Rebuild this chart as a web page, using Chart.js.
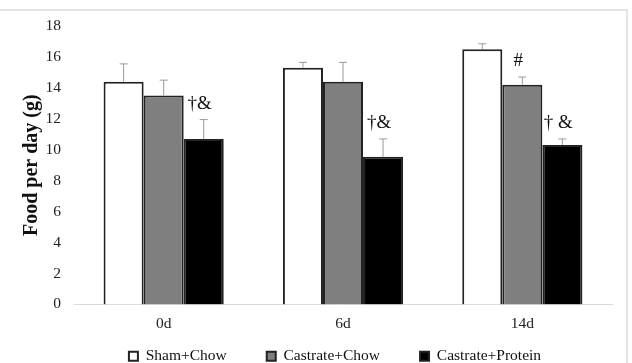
<!DOCTYPE html>
<html>
<head>
<meta charset="utf-8">
<script src="https://cdn.jsdelivr.net/npm/chart.js@4.4.1/dist/chart.umd.min.js"></script>
<style>
    body { margin: 0; background: #fff; }
    #wrap { position: relative; width: 632px; height: 363px; }
    .frame-top { position: absolute; left: 0; top: 9px; width: 628px; height: 2px; background: #e4e4e4; }
    .frame-right { position: absolute; left: 626px; top: 9px; width: 2px; height: 354px; background: #e4e4e4; }
</style>
</head>
<body>
<div id="wrap">
    <div class="frame-top"></div>
    <div class="frame-right"></div>
    <canvas id="foodChart"></canvas>
</div>
<script>
// Data
const days = ['0d', '6d', '14d'];
const groups = ['Sham+Chow', 'Castrate+Chow', 'Castrate+Protein'];
const shamChow = [14.4, 15.3, 16.5];
const castrateChow = [13.5, 14.4, 14.2];
const castrateProtein = [10.7, 9.55, 10.3];
const shamErr = [1.15, 0.35, 0.35];
const chowErr = [1.0, 1.25, 0.5];
const proteinErr = [1.25, 1.15, 0.4];
// significance marks above each bar
const shamMarks = ['', '', ''];
const chowMarks = ['', '', '#'];
const proteinMarks = ['†&', '†&', '† &'];

const serif = "'Liberation Serif', 'Times New Roman', serif";

// Error bars + significance marks
const errorBarPlugin = {
    id: 'errorBars',
    afterDatasetsDraw(chart) {
        const ctx = chart.ctx;
        const yScale = chart.scales.y;
        chart.data.datasets.forEach((ds, di) => {
            const meta = chart.getDatasetMeta(di);
            meta.data.forEach((bar, i) => {
                const top = yScale.getPixelForValue(ds.data[i] + ds.errors[i]);
                ctx.save();
                ctx.strokeStyle = '#9a9a9a';
                ctx.lineWidth = 1;
                ctx.beginPath();
                ctx.moveTo(bar.x, bar.y);
                ctx.lineTo(bar.x, top);
                ctx.moveTo(bar.x - 4, top);
                ctx.lineTo(bar.x + 4, top);
                ctx.stroke();
                if (ds.marks[i]) {
                    ctx.fillStyle = '#111';
                    ctx.font = '19px ' + serif;
                    ctx.textAlign = 'center';
                    ctx.textBaseline = 'middle';
                    ctx.fillText(ds.marks[i], bar.x - 4, top - 16);
                }
                ctx.restore();
            });
        });
    }
};

// legend: short box so the plot keeps its height, then moved just under the axis labels
const legendPlacePlugin = {
    id: 'legendPlace',
    beforeLayout(chart) {
        const lg = chart.legend;
        if (lg && !lg._patched) {
            const fit = lg.fit;
            lg.fit = function () { fit.call(this); this.height = 17; };
            // draw without clipping to the shortened box
            lg.draw = function () { if (this.options.display) this._draw(); };
            lg._patched = true;
        }
    },
    afterLayout(chart) {
        const lg = chart.legend;
        const shift = lg.top - (chart.chartArea.bottom + 4);
        lg.top -= shift;
        lg.bottom -= shift;
        // centre the legend a little right, under the plot
        lg.left += 29;
        lg.right += 29;
    }
};

const ctx = document.getElementById('foodChart').getContext('2d');

new Chart(ctx, {
    type: 'bar',
    data: {
        labels: days,
        datasets: [
            { label: groups[0], data: shamChow, errors: shamErr, marks: shamMarks,
              backgroundColor: '#ffffff', borderColor: '#222222', borderWidth: 2 },
            { label: groups[1], data: castrateChow, errors: chowErr, marks: chowMarks,
              backgroundColor: '#7f7f7f', borderColor: '#222222', borderWidth: 2 },
            { label: groups[2], data: castrateProtein, errors: proteinErr, marks: proteinMarks,
              backgroundColor: '#000000', borderColor: '#222222', borderWidth: 2 }
        ]
    },
    options: {
        responsive: true,
        maintainAspectRatio: false,
        animation: false,
        layout: { padding: { top: 26, right: 20, left: 0, bottom: 3 } },
        datasets: { bar: { categoryPercentage: 0.67, barPercentage: 1.0 } },
        plugins: {
            tooltip: { enabled: false },
            legend: {
                position: 'bottom',
                labels: {
                    font: { family: serif, size: 15.5 },
                    color: '#111',
                    boxWidth: 9,
                    boxHeight: 9,
                    padding: 40
                }
            }
        },
        scales: {
            x: {
                grid: { display: false, drawTicks: false },
                border: { color: '#d9d9d9', width: 1 },
                ticks: { font: { family: serif, size: 15.5 }, color: '#222', padding: 10 }
            },
            y: {
                min: 0,
                max: 18,
                afterFit(scale) { scale.width = 74; },
                grid: { display: false, drawTicks: false },
                border: { display: false },
                ticks: { stepSize: 2, font: { family: serif, size: 15.5 }, color: '#222', padding: 13 },
                title: {
                    display: true,
                    text: 'Food per day (g)',
                    font: { family: serif, size: 20, weight: 'bold' },
                    color: '#111',
                    padding: { top: 20, bottom: 0 }
                }
            }
        }
    },
    plugins: [errorBarPlugin, legendPlacePlugin]
});
</script>
</body>
</html>
